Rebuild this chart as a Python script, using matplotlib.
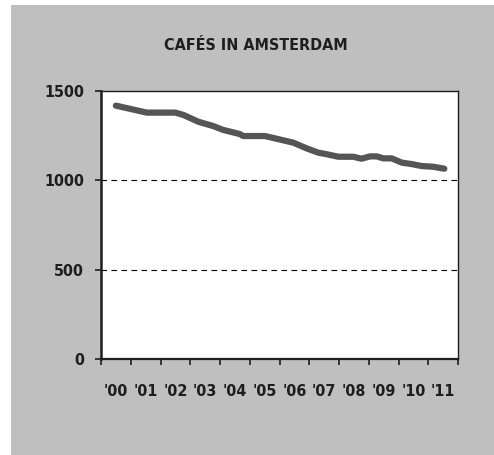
import matplotlib
matplotlib.use("Agg")
import matplotlib.pyplot as plt
from matplotlib.patches import Rectangle

# Data: year offset (0 = 2000) and number of cafés
years = [0.0, 1.04, 2.0, 2.27, 2.77, 3.27, 3.61, 4.17, 4.28, 5.01, 5.96, 6.41,
         6.80, 7.09, 7.48, 7.98, 8.26, 8.54, 8.77, 8.99, 9.27, 9.61, 9.94,
         10.28, 10.67, 11.04]
cafes = [1418, 1379, 1379, 1366, 1328, 1304, 1282, 1259, 1248, 1248, 1211, 1179,
         1155, 1146, 1132, 1132, 1121, 1134, 1134, 1123, 1123, 1099, 1091,
         1080, 1076, 1065]
year_labels = ["'00", "'01", "'02", "'03", "'04", "'05", "'06", "'07", "'08",
               "'09", "'10", "'11"]
y_ticks = [0, 500, 1000, 1500]

W, H = 494, 455
fig = plt.figure(figsize=(W / 100, H / 100), dpi=100)
fig.patch.set_facecolor("white")
fig.patches.append(Rectangle((11 / W, 0), 1 - 11 / W, 1 - 5 / H,
                             transform=fig.transFigure, facecolor="#bfbfbf",
                             edgecolor="none", zorder=-5))

FONT = dict(family="DejaVu Sans", stretch="condensed", weight="bold")
TXT = "#1e1e1e"

ax = fig.add_axes([101 / W, (H - 359) / H, (458 - 101) / W, (359 - 91) / H])
ax.set_zorder(2)
ax.set_facecolor("white")
x = [v + 0.5 for v in years]
ax.plot(x, cafes, color="#555555", lw=4.5, solid_capstyle="round",
        solid_joinstyle="round", zorder=3)

ax.set_xlim(0, len(year_labels))
ax.set_ylim(0, 1500)
ax.set_yticks(y_ticks)
ax.set_yticklabels([str(v) for v in y_ticks], fontsize=11.5, color=TXT, **FONT)
ax.set_xticks(range(len(year_labels) + 1))
ax.set_xticklabels([])
ax.set_xticks([i + 0.5 for i in range(len(year_labels))], minor=True)
ax.set_xticklabels(year_labels, minor=True, fontsize=11.5, color=TXT, **FONT)
ax.tick_params(axis="x", which="minor", length=0, pad=18)
ax.tick_params(axis="x", which="major", length=4.5, width=1.2, direction="out",
               color=TXT)
ax.tick_params(axis="y", length=4, width=1.2, direction="out", pad=8,
               color=TXT)

for v in [500, 1000]:
    ax.axhline(v, color="black", lw=0.8, ls=(0, (5, 4)), zorder=1)

for s in ax.spines.values():
    s.set_color(TXT)
    s.set_linewidth(1.0)
ax.spines["left"].set_linewidth(1.8)
ax.spines["bottom"].set_linewidth(1.6)

fig.text(256 / W, (H - 45) / H, "CAFÉS IN AMSTERDAM", ha="center", va="center",
         fontsize=11.5, color=TXT, **FONT)

fig.savefig("out.png", dpi=100, facecolor="white")
